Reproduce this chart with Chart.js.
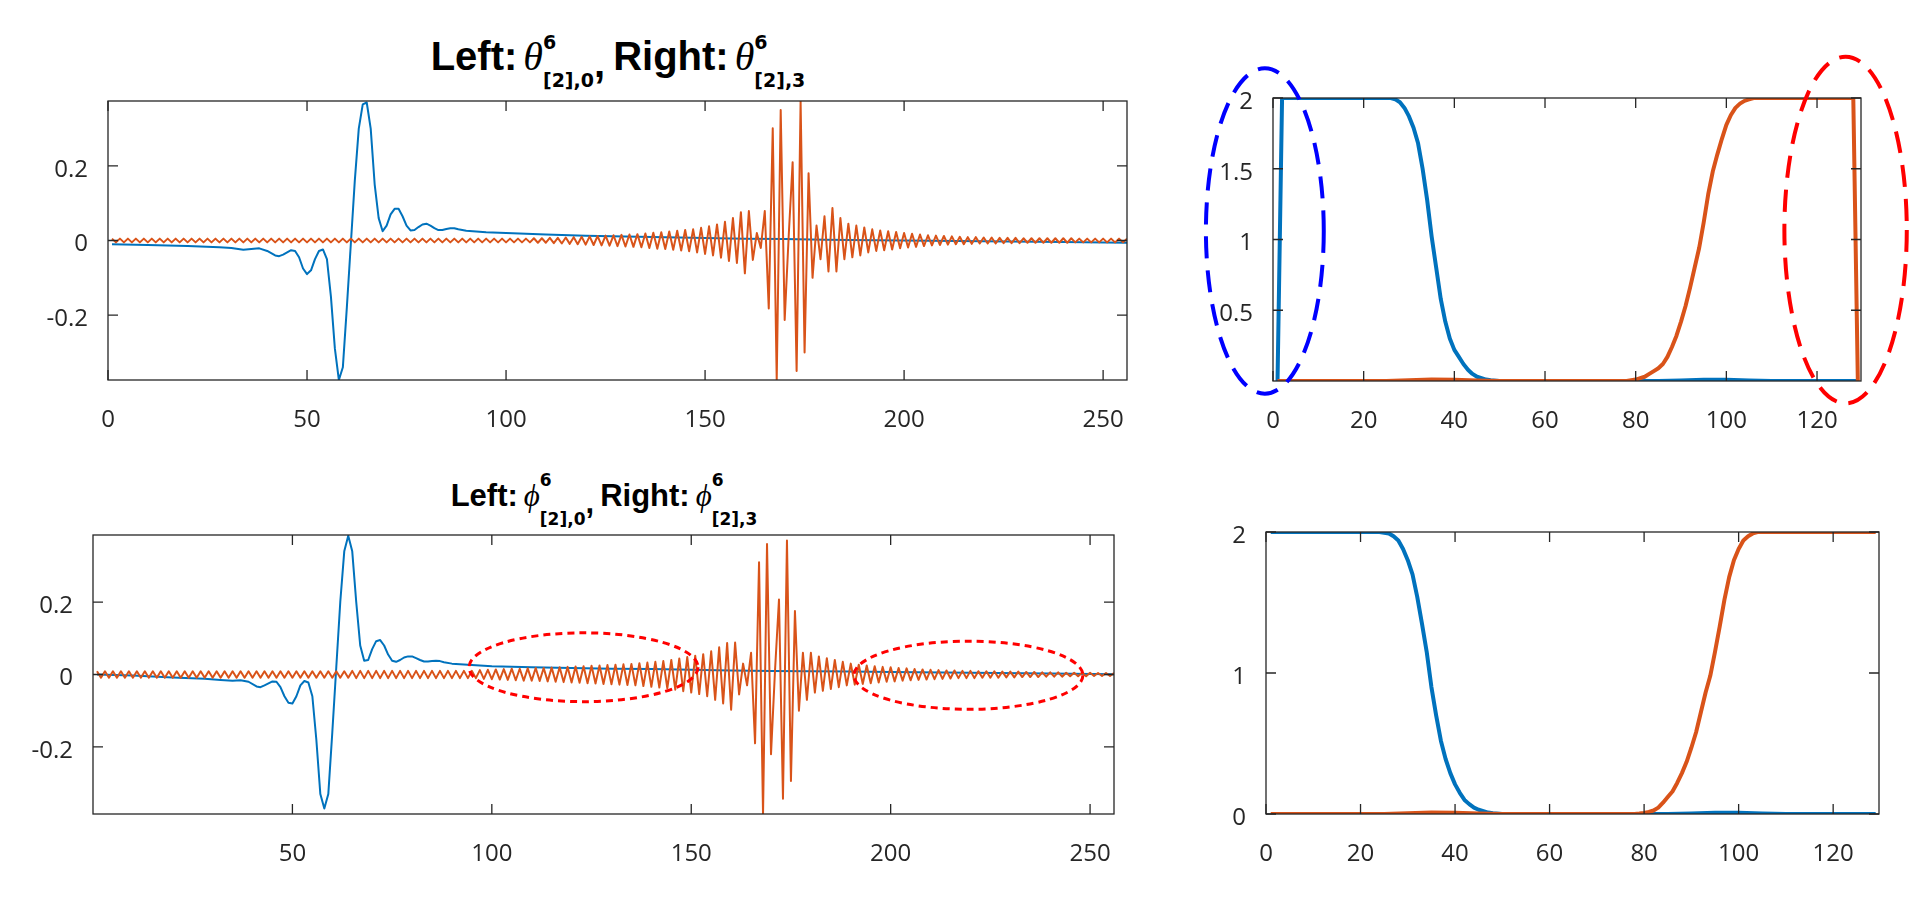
<!DOCTYPE html>
<html>
<head>
<meta charset="utf-8">
<script src="https://cdn.jsdelivr.net/npm/chart.js@4.4.1/dist/chart.umd.min.js"></script>
<style>
html, body { margin: 0; padding: 0; background: #fff; width: 1920px; height: 916px; overflow: hidden; }
.panel { position: absolute; }
.panel canvas { display: block; }
.title { position: absolute; font-family: "Liberation Sans", Arial, sans-serif; font-weight: bold; color: #000;
         white-space: nowrap; transform: translateX(-50%); }
.g { font-family: "Liberation Serif", "DejaVu Serif", serif; font-style: italic; font-weight: normal; margin-left: 6px; }
.up, .dn { font-family: "DejaVu Sans", sans-serif; font-weight: bold; position: relative; }
.up { display: inline-block; width: 0; }
.cm { position: relative; margin-right: 8px; }
#t1 { left: 618px; top: 36px; font-size: 40px; line-height: 40px; }
#t1 .up { font-size: 19px; top: -21px; }
#t1 .dn { font-size: 19px; top: 17px; }
#t1 .cm { top: 7px; }
#t2 { left: 604px; top: 480px; font-size: 31px; line-height: 31px; }
#t2 .up { font-size: 17px; top: -20px; }
#t2 .dn { font-size: 17px; top: 19px; }
#t2 .cm { top: 7px; margin-right: 6px; }
</style>
</head>
<body>
<div class="title" id="t1">Left:<span class="g">θ</span><span class="up">6</span><span class="dn">[2],0</span><span class="cm">,</span>Right:<span class="g">θ</span><span class="up">6</span><span class="dn">[2],3</span></div>
<div class="title" id="t2">Left:<span class="g">ϕ</span><span class="up">6</span><span class="dn">[2],0</span><span class="cm">,</span>Right:<span class="g">ϕ</span><span class="up">6</span><span class="dn">[2],3</span></div>
<script>
// tick labels
const tlXTicks = [0, 50, 100, 150, 200, 250];
const blXTicks = [50, 100, 150, 200, 250];
const leftYTicks = [-0.2, 0, 0.2];
const rightXTicks = [0, 20, 40, 60, 80, 100, 120];
const trYTicks = [0.5, 1, 1.5, 2];
const brYTicks = [0, 1, 2];

// sample index of the left panels (1..256)
const sampleIdx = Array.from({ length: 256 }, (_, i) => i + 1);

// top left, blue (theta left), read at selected samples
const tlBlueX = [1, 10, 20, 28, 31, 34, 36, 38, 40, 42, 43, 44, 46, 47, 48, 49, 50, 51, 52, 53, 54, 55, 56, 57, 58, 59, 60,
  61, 62, 63, 64, 65, 66, 67, 68, 69, 70, 71, 72, 73, 74, 75, 76, 77, 78, 79, 80, 81, 82, 83, 84, 85, 86, 87, 88, 89, 90,
  95, 100, 110, 120, 130, 140, 150, 160, 170, 180, 200, 220, 240, 256];
const tlBlueY = [-0.010, -0.012, -0.015, -0.018, -0.020, -0.025, -0.023, -0.021, -0.028, -0.040, -0.042, -0.038, -0.026,
  -0.028, -0.045, -0.075, -0.090, -0.080, -0.050, -0.028, -0.024, -0.050, -0.150, -0.290, -0.374, -0.340, -0.180,
  -0.010, 0.160, 0.300, 0.365, 0.370, 0.300, 0.150, 0.060, 0.025, 0.040, 0.070, 0.085, 0.085, 0.065, 0.040, 0.027,
  0.028, 0.036, 0.043, 0.045, 0.040, 0.033, 0.028, 0.028, 0.031, 0.033, 0.033, 0.030, 0.028, 0.026,
  0.022, 0.020, 0.016, 0.013, 0.011, 0.009, 0.007, 0.005, 0.004, 0.002, 0.000, -0.002, -0.004, -0.006];

// top left, orange (theta right), every sample
const tlOrange = [
  .005,-.005,.005,-.005,.005,-.005,.005,-.005,.005,-.005,.005,-.005,.005,-.005,.005,-.005,
  .005,-.005,.005,-.005,.005,-.005,.005,-.005,.005,-.005,.005,-.005,.005,-.005,.005,-.005,
  .005,-.005,.005,-.005,.005,-.005,.005,-.005,.005,-.005,.005,-.005,.005,-.005,.005,-.005,
  .005,-.005,.005,-.005,.005,-.005,.005,-.005,.005,-.005,.005,-.005,.005,-.005,.005,-.005,
  .005,-.005,.005,-.005,.005,-.005,.005,-.005,.005,-.005,.005,-.005,.005,-.005,.005,-.005,
  .005,-.005,.005,-.005,.005,-.005,.005,-.005,.005,-.005,.005,-.005,.005,-.005,.005,-.005,
  .005,-.005,.005,-.005,.005,-.005,.005,-.005,.005,-.005,.006,-.006,.006,-.006,.007,-.007,
  .007,-.008,.008,-.009,.009,-.010,.010,-.011,.011,-.012,.012,-.013,.013,-.014,.014,-.015,
  .015,-.016,.016,-.017,.017,-.018,.019,-.020,.021,-.022,.022,-.023,.024,-.025,.026,-.027,
  .028,-.029,.030,-.032,.034,-.036,.038,-.040,.043,-.046,.050,-.055,.060,-.060,.076,-.088,
  .079,-.052,.020,-.020,.079,-.182,.301,-.374,.350,-.213,.010,.210,-.350,.373,-.300,.180,
  -.100,.040,-.050,.065,-.083,.087,-.083,.060,-.050,.045,-.045,.040,-.040,.035,-.032,.030,
  -.028,.027,-.026,.025,-.024,.023,-.021,.020,-.019,.018,-.017,.016,-.015,.014,-.013,.013,
  -.012,.012,-.011,.011,-.010,.010,-.010,.009,-.009,.009,-.008,.008,-.008,.008,-.008,.007,
  -.007,.007,-.007,.007,-.007,.006,-.006,.006,-.006,.006,-.006,.006,-.006,.006,-.006,.006,
  -.006,.006,-.005,.005,-.005,.005,-.005,.005,-.005,.005,-.005,.005,-.005,.005,-.005,.005
];

// bottom left, blue (phi left)
const blBlueX = [1, 10, 20, 28, 32, 35, 37, 39, 41, 42, 43, 45, 46, 47, 48, 49, 50, 51, 52, 53, 54, 55, 56, 57, 58, 59, 60,
  61, 62, 63, 64, 65, 66, 67, 68, 69, 70, 71, 72, 73, 74, 75, 76, 77, 78, 79, 80, 81, 82, 83, 84, 85, 86, 87, 88, 90,
  95, 100, 110, 120, 130, 140, 150, 160, 170, 180, 190, 200, 220, 240, 256];
const blBlueY = [0.000, -0.003, -0.008, -0.012, -0.015, -0.017, -0.016, -0.020, -0.033, -0.035, -0.030, -0.019, -0.020,
  -0.035, -0.060, -0.078, -0.080, -0.060, -0.030, -0.018, -0.022, -0.060, -0.180, -0.330, -0.370, -0.330, -0.160,
  0.020, 0.200, 0.340, 0.383, 0.340, 0.200, 0.080, 0.038, 0.040, 0.070, 0.092, 0.095, 0.080, 0.055, 0.038, 0.035,
  0.040, 0.047, 0.050, 0.050, 0.045, 0.040, 0.036, 0.036, 0.037, 0.038, 0.037, 0.034, 0.030,
  0.026, 0.023, 0.020, 0.018, 0.016, 0.015, 0.013, 0.011, 0.010, 0.009, 0.008, 0.007, 0.005, 0.003, 0.001];

// bottom left, orange (phi right), every sample
const blOrange = [
  .009,-.009,.009,-.009,.009,-.009,.009,-.009,.009,-.009,.009,-.009,.009,-.009,.009,-.009,
  .009,-.009,.009,-.009,.009,-.009,.009,-.009,.009,-.009,.009,-.009,.009,-.009,.009,-.009,
  .009,-.009,.009,-.009,.009,-.009,.009,-.009,.009,-.009,.009,-.009,.009,-.009,.009,-.009,
  .009,-.009,.009,-.009,.009,-.009,.009,-.009,.009,-.009,.009,-.009,.009,-.009,.009,-.009,
  .010,-.010,.010,-.010,.010,-.010,.010,-.010,.010,-.010,.010,-.010,.010,-.010,.010,-.010,
  .010,-.010,.010,-.010,.010,-.010,.010,-.010,.010,-.010,.010,-.010,.010,-.010,.010,-.010,
  .012,-.012,.013,-.013,.014,-.014,.015,-.015,.016,-.016,.016,-.017,.017,-.017,.018,-.018,
  .018,-.019,.019,-.020,.020,-.021,.021,-.022,.022,-.023,.023,-.024,.024,-.025,.025,-.026,
  .026,-.027,.027,-.028,.028,-.029,.029,-.030,.031,-.032,.033,-.034,.035,-.036,.037,-.038,
  .040,-.042,.044,-.046,.048,-.050,.052,-.054,.056,-.060,.064,-.070,.075,-.080,.087,-.097,
  .088,-.055,.030,-.030,.060,-.190,.310,-.386,.360,-.220,.010,.207,-.343,.370,-.294,.175,
  -.100,.060,-.070,.060,-.050,.050,-.045,.045,-.040,.040,-.035,.035,-.030,.030,-.028,.027,
  -.026,.025,-.024,.023,-.022,.021,-.020,.020,-.019,.018,-.017,.017,-.016,.015,-.015,.014,
  -.014,.013,-.013,.012,-.012,.011,-.011,.011,-.010,.010,-.010,.010,-.010,.009,-.009,.009,
  -.009,.009,-.009,.008,-.008,.008,-.008,.008,-.007,.007,-.007,.007,-.007,.006,-.006,.006,
  -.006,.006,-.006,.005,-.005,.005,-.005,.005,-.005,.005,-.004,.004,-.004,.004,-.004,.004
];

// top right
const trBlueX = [1, 2, 26, 27, 28, 29, 30, 31, 32, 33, 34, 35, 36, 37, 38, 39, 40, 41, 42, 43, 44, 45, 46, 47, 48, 50,
  85, 90, 95, 100, 105, 110, 129];
const trBlueY = [0, 2, 2, 1.99, 1.97, 1.93, 1.87, 1.79, 1.68, 1.50, 1.28, 1.02, 0.80, 0.58, 0.42, 0.30, 0.22, 0.17,
  0.12, 0.08, 0.05, 0.03, 0.02, 0.01, 0.005, 0, 0, 0.004, 0.008, 0.008, 0.004, 0, 0];
const trOrangeX = [1, 25, 30, 35, 40, 45, 50, 78, 79, 80, 81, 82, 83, 84, 85, 86, 87, 88, 89, 90, 91, 92, 93, 94, 95,
  96, 97, 98, 99, 100, 101, 102, 103, 104, 105, 106, 128, 129];
const trOrangeY = [0, 0, 0.005, 0.01, 0.008, 0.003, 0, 0, 0.005, 0.01, 0.02, 0.03, 0.05, 0.07, 0.09, 0.12, 0.17, 0.24,
  0.32, 0.42, 0.53, 0.66, 0.80, 0.94, 1.12, 1.32, 1.48, 1.60, 1.71, 1.81, 1.88, 1.93, 1.96, 1.98, 1.99, 2, 2, 0];

// bottom right
const brBlueX = [1, 24, 25, 26, 27, 28, 29, 30, 31, 32, 33, 34, 35, 36, 37, 38, 39, 40, 41, 42, 43, 44, 45, 46, 47, 48,
  50, 85, 90, 95, 100, 105, 110, 129];
const brBlueY = [2, 2, 1.995, 1.99, 1.97, 1.94, 1.88, 1.80, 1.70, 1.54, 1.35, 1.15, 0.90, 0.70, 0.52, 0.39, 0.29, 0.21,
  0.15, 0.10, 0.07, 0.045, 0.03, 0.02, 0.01, 0.005, 0, 0, 0.004, 0.008, 0.008, 0.004, 0, 0];
const brOrangeX = [1, 25, 30, 35, 40, 45, 50, 78, 79, 80, 81, 82, 83, 84, 85, 86, 87, 88, 89, 90, 91, 92, 93, 94, 95,
  96, 97, 98, 99, 100, 101, 102, 103, 104, 129];
const brOrangeY = [0, 0, 0.005, 0.01, 0.008, 0.003, 0, 0, 0.003, 0.008, 0.015, 0.025, 0.045, 0.08, 0.12, 0.16, 0.22,
  0.29, 0.37, 0.47, 0.58, 0.72, 0.86, 0.98, 1.15, 1.33, 1.52, 1.68, 1.80, 1.88, 1.94, 1.97, 1.99, 2, 2];

const BLUE = '#0072BD', ORANGE = '#D95319', AXIS = '#262626';
const PAD = { l: 110, t: 60, r: 70, b: 70 };

Chart.defaults.font.family = '"Open Sans", "Liberation Sans", sans-serif';

function pts(xs, ys) { return xs.map((x, i) => ({ x: x, y: ys[i] })); }

// box, inward ticks on all four sides, dashed ellipses
const framePlugin = {
  id: 'frame',
  afterDraw(chart, args, opts) {
    const { ctx, chartArea: a, scales: { x, y } } = chart;
    ctx.save();
    ctx.strokeStyle = AXIS;
    ctx.lineWidth = 1.3;
    ctx.strokeRect(a.left, a.top, a.width, a.height);
    ctx.beginPath();
    x.ticks.forEach(t => {
      const px = x.getPixelForValue(t.value);
      ctx.moveTo(px, a.bottom); ctx.lineTo(px, a.bottom - 10);
      ctx.moveTo(px, a.top); ctx.lineTo(px, a.top + 10);
    });
    y.ticks.forEach(t => {
      const py = y.getPixelForValue(t.value);
      ctx.moveTo(a.left, py); ctx.lineTo(a.left + 10, py);
      ctx.moveTo(a.right, py); ctx.lineTo(a.right - 10, py);
    });
    ctx.stroke();
    (opts.ellipses || []).forEach(e => {
      const cx = x.getPixelForValue(e.cx), cy = y.getPixelForValue(e.cy);
      const rx = Math.abs(x.getPixelForValue(e.cx + e.rx) - cx);
      const ry = Math.abs(y.getPixelForValue(e.cy + e.ry) - cy);
      ctx.strokeStyle = e.color;
      ctx.lineWidth = e.width;
      ctx.setLineDash(e.dash);
      ctx.beginPath();
      ctx.ellipse(cx, cy, rx, ry, 0, 0, Math.PI * 2);
      ctx.stroke();
    });
    ctx.restore();
  }
};

function panel(box, xr, yr, xTicks, yTicks, series, ellipses) {
  const [l, t, r, b] = box;
  const div = document.createElement('div');
  div.className = 'panel';
  div.style.left = (l - PAD.l) + 'px';
  div.style.top = (t - PAD.t) + 'px';
  div.style.width = (r - l + PAD.l + PAD.r) + 'px';
  div.style.height = (b - t + PAD.t + PAD.b) + 'px';
  const cv = document.createElement('canvas');
  div.appendChild(cv);
  document.body.appendChild(div);
  const tickFont = { size: 24 };
  new Chart(cv, {
    type: 'line',
    data: {
      datasets: series.map((s, i) => ({
        data: s.data, borderColor: s.color, borderWidth: s.width, pointRadius: 0,
        tension: 0, fill: false, borderJoinStyle: 'round', order: series.length - i
      }))
    },
    options: {
      responsive: true, maintainAspectRatio: false, animation: false,
      layout: { padding: { left: 0, top: PAD.t, right: PAD.r, bottom: 0 } },
      plugins: { legend: { display: false }, tooltip: { enabled: false }, frame: { ellipses: ellipses } },
      scales: {
        x: {
          type: 'linear', min: xr[0], max: xr[1],
          afterFit: s => { s.height = PAD.b; },
          afterBuildTicks: s => { s.ticks = xTicks.map(v => ({ value: v })); },
          grid: { display: false }, border: { display: false },
          ticks: { font: tickFont, color: AXIS, padding: 18, maxRotation: 0, autoSkip: false, callback: v => String(v) }
        },
        y: {
          type: 'linear', min: yr[0], max: yr[1],
          afterFit: s => { s.width = PAD.l; },
          afterBuildTicks: s => { s.ticks = yTicks.map(v => ({ value: v })); },
          grid: { display: false }, border: { display: false },
          ticks: { font: tickFont, color: AXIS, padding: 12, labelOffset: 4, autoSkip: false, callback: v => String(v) }
        }
      }
    },
    plugins: [framePlugin]
  });
}

panel([108, 101, 1127, 380], [0, 256], [-0.374, 0.374], tlXTicks, leftYTicks, [
  { data: pts(tlBlueX, tlBlueY), color: BLUE, width: 2 },
  { data: pts(sampleIdx, tlOrange), color: ORANGE, width: 2 }
], []);

panel([93, 535, 1114, 814], [0, 256], [-0.385, 0.385], blXTicks, leftYTicks, [
  { data: pts(blBlueX, blBlueY), color: BLUE, width: 2 },
  { data: pts(sampleIdx, blOrange), color: ORANGE, width: 2 }
], [
  { cx: 123, cy: 0.02, rx: 28.7, ry: 0.095, color: '#FF0000', width: 3, dash: [7, 5] },
  { cx: 219.5, cy: -0.002, rx: 28.7, ry: 0.094, color: '#FF0000', width: 3, dash: [7, 5] }
]);

panel([1273, 98, 1861, 381], [0, 129.7], [0, 2], rightXTicks, trYTicks, [
  { data: pts(trBlueX, trBlueY), color: BLUE, width: 4 },
  { data: pts(trOrangeX, trOrangeY), color: ORANGE, width: 4 }
], [
  { cx: -1.8, cy: 1.06, rx: 13, ry: 1.15, color: '#0000FF', width: 4, dash: [22, 12] },
  { cx: 126.3, cy: 1.067, rx: 13.5, ry: 1.225, color: '#FF0000', width: 4, dash: [22, 12] }
]);

panel([1266, 532, 1879, 814], [0, 129.7], [0, 2], rightXTicks, brYTicks, [
  { data: pts(brBlueX, brBlueY), color: BLUE, width: 4 },
  { data: pts(brOrangeX, brOrangeY), color: ORANGE, width: 4 }
], []);
</script>
</body>
</html>
